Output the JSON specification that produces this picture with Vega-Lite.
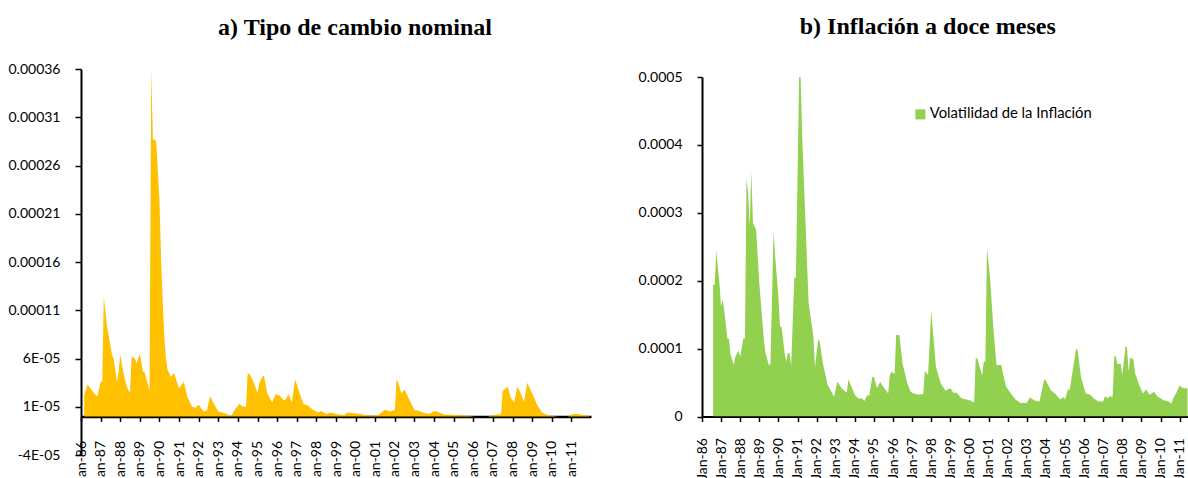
{
  "$schema": "https://vega.github.io/schema/vega-lite/v6.json",
  "padding": {"left": 7, "top": 15, "right": 0, "bottom": 0},
  "background": "#ffffff",
  "spacing": 47,
  "resolve": {"scale": {"color": "independent"}, "legend": {"color": "independent"}},
  "config": {
    "view": {"stroke": null},
    "font": "Lato",
    "axis": {"labelFont": "Lato", "labelFontSize": 14, "labelColor": "#000000", "domainColor": "#000000", "tickColor": "#000000", "domainWidth": 2, "tickWidth": 1.5, "grid": false}
  },
  "datasets": {
    "fx": [
      {"fecha": "1986-03", "valor": 2.2e-5},
      {"fecha": "1986-05", "valor": 3.3e-5},
      {"fecha": "1986-09", "valor": 2.4e-5},
      {"fecha": "1986-11", "valor": 2.05e-5},
      {"fecha": "1987-01", "valor": 3.6e-5},
      {"fecha": "1987-02", "valor": 3.6e-5},
      {"fecha": "1987-03", "valor": 12.4e-5},
      {"fecha": "1987-05", "valor": 9.3e-5},
      {"fecha": "1987-08", "valor": 6.4e-5},
      {"fecha": "1987-09", "valor": 6.0e-5},
      {"fecha": "1987-11", "valor": 3.6e-5},
      {"fecha": "1987-12", "valor": 4.5e-5},
      {"fecha": "1988-01", "valor": 6.4e-5},
      {"fecha": "1988-03", "valor": 4.5e-5},
      {"fecha": "1988-05", "valor": 3.1e-5},
      {"fecha": "1988-07", "valor": 2.4e-5},
      {"fecha": "1988-08", "valor": 6.2e-5},
      {"fecha": "1988-10", "valor": 6.0e-5},
      {"fecha": "1988-11", "valor": 5.5e-5},
      {"fecha": "1989-01", "valor": 6.5e-5},
      {"fecha": "1989-03", "valor": 4.6e-5},
      {"fecha": "1989-04", "valor": 4.6e-5},
      {"fecha": "1989-06", "valor": 3.3e-5},
      {"fecha": "1989-07", "valor": 2.6e-5},
      {"fecha": "1989-08", "valor": 36.0e-5},
      {"fecha": "1989-09", "valor": 28.7e-5},
      {"fecha": "1989-10", "valor": 28.7e-5},
      {"fecha": "1989-11", "valor": 28.5e-5},
      {"fecha": "1990-01", "valor": 22.4e-5},
      {"fecha": "1990-02", "valor": 16.2e-5},
      {"fecha": "1990-03", "valor": 12.0e-5},
      {"fecha": "1990-04", "valor": 8.3e-5},
      {"fecha": "1990-05", "valor": 6.0e-5},
      {"fecha": "1990-06", "valor": 4.8e-5},
      {"fecha": "1990-08", "valor": 4.1e-5},
      {"fecha": "1990-10", "valor": 4.5e-5},
      {"fecha": "1990-12", "valor": 3.4e-5},
      {"fecha": "1991-01", "valor": 2.9e-5},
      {"fecha": "1991-04", "valor": 3.6e-5},
      {"fecha": "1991-06", "valor": 2.05e-5},
      {"fecha": "1991-09", "valor": 1.0e-5},
      {"fecha": "1991-11", "valor": 0.9e-5},
      {"fecha": "1992-01", "valor": 1.2e-5},
      {"fecha": "1992-04", "valor": 0.5e-5},
      {"fecha": "1992-06", "valor": 0.6e-5},
      {"fecha": "1992-08", "valor": 2.1e-5},
      {"fecha": "1992-10", "valor": 1.4e-5},
      {"fecha": "1993-01", "valor": 0.5e-5},
      {"fecha": "1993-05", "valor": 0.33e-5},
      {"fecha": "1993-09", "valor": 0.05e-5},
      {"fecha": "1993-11", "valor": 0.7e-5},
      {"fecha": "1994-02", "valor": 1.3e-5},
      {"fecha": "1994-04", "valor": 1.0e-5},
      {"fecha": "1994-06", "valor": 1.0e-5},
      {"fecha": "1994-07", "valor": 4.5e-5},
      {"fecha": "1994-08", "valor": 4.4e-5},
      {"fecha": "1994-10", "valor": 3.8e-5},
      {"fecha": "1995-01", "valor": 2.4e-5},
      {"fecha": "1995-02", "valor": 3.4e-5},
      {"fecha": "1995-04", "valor": 4.1e-5},
      {"fecha": "1995-05", "valor": 4.2e-5},
      {"fecha": "1995-07", "valor": 2.4e-5},
      {"fecha": "1995-10", "valor": 1.45e-5},
      {"fecha": "1995-12", "valor": 2.3e-5},
      {"fecha": "1996-02", "valor": 2.2e-5},
      {"fecha": "1996-03", "valor": 2.05e-5},
      {"fecha": "1996-05", "valor": 1.7e-5},
      {"fecha": "1996-06", "valor": 1.7e-5},
      {"fecha": "1996-08", "valor": 2.3e-5},
      {"fecha": "1996-10", "valor": 1.45e-5},
      {"fecha": "1996-12", "valor": 3.85e-5},
      {"fecha": "1997-02", "valor": 2.75e-5},
      {"fecha": "1997-05", "valor": 1.3e-5},
      {"fecha": "1997-08", "valor": 1.1e-5},
      {"fecha": "1997-11", "valor": 0.67e-5},
      {"fecha": "1998-02", "valor": 0.4e-5},
      {"fecha": "1998-04", "valor": 0.57e-5},
      {"fecha": "1998-07", "valor": 0.26e-5},
      {"fecha": "1998-10", "valor": 0.4e-5},
      {"fecha": "1999-01", "valor": 0.26e-5},
      {"fecha": "1999-06", "valor": 0.12e-5},
      {"fecha": "1999-08", "valor": 0.4e-5},
      {"fecha": "1999-12", "valor": 0.33e-5},
      {"fecha": "2000-04", "valor": 0.26e-5},
      {"fecha": "2000-09", "valor": 0.08e-5},
      {"fecha": "2001-03", "valor": 0.15e-5},
      {"fecha": "2001-07", "valor": 0.7e-5},
      {"fecha": "2001-10", "valor": 0.5e-5},
      {"fecha": "2002-01", "valor": 0.67e-5},
      {"fecha": "2002-02", "valor": 3.8e-5},
      {"fecha": "2002-03", "valor": 3.6e-5},
      {"fecha": "2002-05", "valor": 2.4e-5},
      {"fecha": "2002-07", "valor": 2.8e-5},
      {"fecha": "2002-10", "valor": 1.7e-5},
      {"fecha": "2003-01", "valor": 0.67e-5},
      {"fecha": "2003-03", "valor": 0.6e-5},
      {"fecha": "2003-06", "valor": 0.4e-5},
      {"fecha": "2003-10", "valor": 0.26e-5},
      {"fecha": "2004-01", "valor": 0.57e-5},
      {"fecha": "2004-03", "valor": 0.5e-5},
      {"fecha": "2004-07", "valor": 0.2e-5},
      {"fecha": "2005-02", "valor": 0.15e-5},
      {"fecha": "2005-08", "valor": 0.1e-5},
      {"fecha": "2006-02", "valor": 0.0},
      {"fecha": "2006-10", "valor": 0.0},
      {"fecha": "2007-01", "valor": 0.15e-5},
      {"fecha": "2007-06", "valor": 0.26e-5},
      {"fecha": "2007-07", "valor": 2.6e-5},
      {"fecha": "2007-10", "valor": 3.1e-5},
      {"fecha": "2007-12", "valor": 1.9e-5},
      {"fecha": "2008-02", "valor": 1.45e-5},
      {"fecha": "2008-04", "valor": 3.1e-5},
      {"fecha": "2008-06", "valor": 2.4e-5},
      {"fecha": "2008-08", "valor": 1.5e-5},
      {"fecha": "2008-10", "valor": 3.5e-5},
      {"fecha": "2009-01", "valor": 2.4e-5},
      {"fecha": "2009-04", "valor": 1.2e-5},
      {"fecha": "2009-07", "valor": 0.4e-5},
      {"fecha": "2009-11", "valor": 0.1e-5},
      {"fecha": "2010-05", "valor": 0.0},
      {"fecha": "2010-11", "valor": 0.0},
      {"fecha": "2011-02", "valor": 0.26e-5},
      {"fecha": "2011-05", "valor": 0.26e-5},
      {"fecha": "2011-10", "valor": 0.1e-5},
      {"fecha": "2011-12", "valor": 0.05e-5}
    ],
    "infl": [
      {"fecha": "1986-08", "valor": 19.4e-5},
      {"fecha": "1986-09", "valor": 19.4e-5},
      {"fecha": "1986-10", "valor": 24.4e-5},
      {"fecha": "1986-12", "valor": 19.6e-5},
      {"fecha": "1987-01", "valor": 16.2e-5},
      {"fecha": "1987-02", "valor": 17.3e-5},
      {"fecha": "1987-03", "valor": 15.7e-5},
      {"fecha": "1987-05", "valor": 11.5e-5},
      {"fecha": "1987-06", "valor": 11.4e-5},
      {"fecha": "1987-07", "valor": 9.1e-5},
      {"fecha": "1987-09", "valor": 7.6e-5},
      {"fecha": "1987-10", "valor": 8.8e-5},
      {"fecha": "1987-12", "valor": 9.7e-5},
      {"fecha": "1988-01", "valor": 8.8e-5},
      {"fecha": "1988-03", "valor": 11.5e-5},
      {"fecha": "1988-04", "valor": 11.5e-5},
      {"fecha": "1988-05", "valor": 35.0e-5},
      {"fecha": "1988-06", "valor": 33.0e-5},
      {"fecha": "1988-07", "valor": 28.0e-5},
      {"fecha": "1988-08", "valor": 36.0e-5},
      {"fecha": "1988-09", "valor": 28.5e-5},
      {"fecha": "1988-11", "valor": 27.5e-5},
      {"fecha": "1989-01", "valor": 19.6e-5},
      {"fecha": "1989-04", "valor": 11.0e-5},
      {"fecha": "1989-05", "valor": 9.3e-5},
      {"fecha": "1989-07", "valor": 7.6e-5},
      {"fecha": "1989-08", "valor": 7.7e-5},
      {"fecha": "1989-10", "valor": 27.3e-5},
      {"fecha": "1989-11", "valor": 23.5e-5},
      {"fecha": "1990-01", "valor": 17.6e-5},
      {"fecha": "1990-02", "valor": 13.2e-5},
      {"fecha": "1990-03", "valor": 13.2e-5},
      {"fecha": "1990-05", "valor": 9.3e-5},
      {"fecha": "1990-06", "valor": 8.1e-5},
      {"fecha": "1990-07", "valor": 9.4e-5},
      {"fecha": "1990-08", "valor": 9.3e-5},
      {"fecha": "1990-09", "valor": 7.4e-5},
      {"fecha": "1990-11", "valor": 20.5e-5},
      {"fecha": "1990-12", "valor": 20.4e-5},
      {"fecha": "1991-02", "valor": 50.0e-5},
      {"fecha": "1991-03", "valor": 50.0e-5},
      {"fecha": "1991-04", "valor": 41.2e-5},
      {"fecha": "1991-06", "valor": 28.9e-5},
      {"fecha": "1991-08", "valor": 16.7e-5},
      {"fecha": "1991-11", "valor": 11.8e-5},
      {"fecha": "1991-12", "valor": 7.3e-5},
      {"fecha": "1992-02", "valor": 11.4e-5},
      {"fecha": "1992-03", "valor": 11.0e-5},
      {"fecha": "1992-05", "valor": 7.8e-5},
      {"fecha": "1992-08", "valor": 4.6e-5},
      {"fecha": "1992-10", "valor": 3.8e-5},
      {"fecha": "1992-12", "valor": 2.9e-5},
      {"fecha": "1993-02", "valor": 5.1e-5},
      {"fecha": "1993-04", "valor": 4.4e-5},
      {"fecha": "1993-05", "valor": 4.1e-5},
      {"fecha": "1993-08", "valor": 3.5e-5},
      {"fecha": "1993-09", "valor": 5.5e-5},
      {"fecha": "1993-11", "valor": 4.3e-5},
      {"fecha": "1994-01", "valor": 3.2e-5},
      {"fecha": "1994-03", "valor": 2.7e-5},
      {"fecha": "1994-06", "valor": 2.6e-5},
      {"fecha": "1994-07", "valor": 2.3e-5},
      {"fecha": "1994-09", "valor": 3.2e-5},
      {"fecha": "1994-10", "valor": 3.0e-5},
      {"fecha": "1994-12", "valor": 5.8e-5},
      {"fecha": "1995-01", "valor": 5.8e-5},
      {"fecha": "1995-03", "valor": 4.15e-5},
      {"fecha": "1995-05", "valor": 5.1e-5},
      {"fecha": "1995-06", "valor": 4.7e-5},
      {"fecha": "1995-10", "valor": 3.4e-5},
      {"fecha": "1995-11", "valor": 6.1e-5},
      {"fecha": "1995-12", "valor": 6.6e-5},
      {"fecha": "1996-02", "valor": 6.3e-5},
      {"fecha": "1996-03", "valor": 12.0e-5},
      {"fecha": "1996-05", "valor": 12.0e-5},
      {"fecha": "1996-07", "valor": 7.8e-5},
      {"fecha": "1996-10", "valor": 4.9e-5},
      {"fecha": "1996-12", "valor": 3.65e-5},
      {"fecha": "1997-02", "valor": 3.4e-5},
      {"fecha": "1997-05", "valor": 3.2e-5},
      {"fecha": "1997-08", "valor": 3.3e-5},
      {"fecha": "1997-09", "valor": 6.75e-5},
      {"fecha": "1997-11", "valor": 6.1e-5},
      {"fecha": "1998-01", "valor": 15.6e-5},
      {"fecha": "1998-02", "valor": 12.7e-5},
      {"fecha": "1998-04", "valor": 7.3e-5},
      {"fecha": "1998-07", "valor": 4.9e-5},
      {"fecha": "1998-10", "valor": 3.8e-5},
      {"fecha": "1998-11", "valor": 3.95e-5},
      {"fecha": "1999-01", "valor": 4.15e-5},
      {"fecha": "1999-03", "valor": 3.5e-5},
      {"fecha": "1999-05", "valor": 3.5e-5},
      {"fecha": "1999-08", "valor": 2.7e-5},
      {"fecha": "1999-11", "valor": 2.5e-5},
      {"fecha": "2000-01", "valor": 2.4e-5},
      {"fecha": "2000-04", "valor": 2.05e-5},
      {"fecha": "2000-05", "valor": 8.6e-5},
      {"fecha": "2000-06", "valor": 8.5e-5},
      {"fecha": "2000-09", "valor": 6.0e-5},
      {"fecha": "2000-10", "valor": 8.1e-5},
      {"fecha": "2000-11", "valor": 8.1e-5},
      {"fecha": "2000-12", "valor": 24.9e-5},
      {"fecha": "2001-02", "valor": 20.1e-5},
      {"fecha": "2001-04", "valor": 13.2e-5},
      {"fecha": "2001-06", "valor": 7.6e-5},
      {"fecha": "2001-09", "valor": 7.6e-5},
      {"fecha": "2001-10", "valor": 6.4e-5},
      {"fecha": "2001-12", "valor": 4.4e-5},
      {"fecha": "2002-03", "valor": 3.4e-5},
      {"fecha": "2002-06", "valor": 2.5e-5},
      {"fecha": "2002-09", "valor": 2.0e-5},
      {"fecha": "2003-01", "valor": 2.0e-5},
      {"fecha": "2003-03", "valor": 2.8e-5},
      {"fecha": "2003-06", "valor": 2.35e-5},
      {"fecha": "2003-09", "valor": 2.2e-5},
      {"fecha": "2003-12", "valor": 5.5e-5},
      {"fecha": "2004-01", "valor": 5.3e-5},
      {"fecha": "2004-04", "valor": 3.9e-5},
      {"fecha": "2004-07", "valor": 3.3e-5},
      {"fecha": "2004-10", "valor": 2.5e-5},
      {"fecha": "2004-12", "valor": 2.85e-5},
      {"fecha": "2005-01", "valor": 2.5e-5},
      {"fecha": "2005-03", "valor": 4.05e-5},
      {"fecha": "2005-04", "valor": 3.9e-5},
      {"fecha": "2005-08", "valor": 10.0e-5},
      {"fecha": "2005-09", "valor": 9.7e-5},
      {"fecha": "2005-11", "valor": 5.9e-5},
      {"fecha": "2006-02", "valor": 3.4e-5},
      {"fecha": "2006-05", "valor": 3.2e-5},
      {"fecha": "2006-07", "valor": 2.7e-5},
      {"fecha": "2006-10", "valor": 2.2e-5},
      {"fecha": "2007-01", "valor": 2.2e-5},
      {"fecha": "2007-02", "valor": 3.0e-5},
      {"fecha": "2007-04", "valor": 2.7e-5},
      {"fecha": "2007-05", "valor": 3.0e-5},
      {"fecha": "2007-07", "valor": 2.9e-5},
      {"fecha": "2007-08", "valor": 8.9e-5},
      {"fecha": "2007-09", "valor": 8.8e-5},
      {"fecha": "2007-10", "valor": 7.7e-5},
      {"fecha": "2007-12", "valor": 7.8e-5},
      {"fecha": "2008-01", "valor": 6.1e-5},
      {"fecha": "2008-03", "valor": 10.3e-5},
      {"fecha": "2008-04", "valor": 10.2e-5},
      {"fecha": "2008-05", "valor": 6.6e-5},
      {"fecha": "2008-06", "valor": 8.7e-5},
      {"fecha": "2008-08", "valor": 8.4e-5},
      {"fecha": "2008-09", "valor": 6.4e-5},
      {"fecha": "2008-12", "valor": 4.4e-5},
      {"fecha": "2009-02", "valor": 3.4e-5},
      {"fecha": "2009-04", "valor": 4.0e-5},
      {"fecha": "2009-06", "valor": 3.2e-5},
      {"fecha": "2009-09", "valor": 3.65e-5},
      {"fecha": "2009-11", "valor": 3.0e-5},
      {"fecha": "2010-03", "valor": 2.4e-5},
      {"fecha": "2010-06", "valor": 2.2e-5},
      {"fecha": "2010-08", "valor": 1.95e-5},
      {"fecha": "2010-09", "valor": 2.7e-5},
      {"fecha": "2010-11", "valor": 3.5e-5},
      {"fecha": "2011-01", "valor": 4.6e-5},
      {"fecha": "2011-02", "valor": 4.3e-5},
      {"fecha": "2011-04", "valor": 4.15e-5},
      {"fecha": "2011-06", "valor": 4.15e-5},
      {"fecha": "2011-09", "valor": 4.0e-5},
      {"fecha": "2011-12", "valor": 4.0e-5}
    ]
  },
  "hconcat": [
    {
      "width": 510,
      "height": 386,
      "title": {"text": "a) Tipo de cambio nominal", "font": "Liberation Serif", "fontSize": 24, "fontWeight": "bold", "color": "#000000", "anchor": "middle", "frame": "group", "dx": 19, "offset": 22},
      "data": {"name": "fx"},
      "mark": {"type": "area", "color": "#FFC000", "clip": true},
      "encoding": {
        "x": {
          "field": "fecha", "type": "temporal",
          "scale": {"type": "utc", "domain": [{"year": 1986, "month": 1, "date": 1, "utc": true}, {"year": 2012, "month": 1, "date": 1, "utc": true}]},
          "axis": {
            "title": null, "offset": -38.6, "format": "%b-%y", "labelAngle": 270, "labelPadding": 19, "tickSize": 5,
            "domainWidth": 2.5, "labelOverlap": false, "labelBound": false, "labelFlush": false,
            "values": [
              {"year": 1986, "month": 1, "date": 1, "utc": true}, {"year": 1987, "month": 1, "date": 1, "utc": true},
              {"year": 1988, "month": 1, "date": 1, "utc": true}, {"year": 1989, "month": 1, "date": 1, "utc": true},
              {"year": 1990, "month": 1, "date": 1, "utc": true}, {"year": 1991, "month": 1, "date": 1, "utc": true},
              {"year": 1992, "month": 1, "date": 1, "utc": true}, {"year": 1993, "month": 1, "date": 1, "utc": true},
              {"year": 1994, "month": 1, "date": 1, "utc": true}, {"year": 1995, "month": 1, "date": 1, "utc": true},
              {"year": 1996, "month": 1, "date": 1, "utc": true}, {"year": 1997, "month": 1, "date": 1, "utc": true},
              {"year": 1998, "month": 1, "date": 1, "utc": true}, {"year": 1999, "month": 1, "date": 1, "utc": true},
              {"year": 2000, "month": 1, "date": 1, "utc": true}, {"year": 2001, "month": 1, "date": 1, "utc": true},
              {"year": 2002, "month": 1, "date": 1, "utc": true}, {"year": 2003, "month": 1, "date": 1, "utc": true},
              {"year": 2004, "month": 1, "date": 1, "utc": true}, {"year": 2005, "month": 1, "date": 1, "utc": true},
              {"year": 2006, "month": 1, "date": 1, "utc": true}, {"year": 2007, "month": 1, "date": 1, "utc": true},
              {"year": 2008, "month": 1, "date": 1, "utc": true}, {"year": 2009, "month": 1, "date": 1, "utc": true},
              {"year": 2010, "month": 1, "date": 1, "utc": true}, {"year": 2011, "month": 1, "date": 1, "utc": true}
            ]
          }
        },
        "y": {
          "field": "valor", "type": "quantitative",
          "scale": {"domain": [-0.00004, 0.00036], "nice": false},
          "axis": {
            "title": null, "tickSize": 6, "labelPadding": 15,
            "values": [-0.00004, 0.00001, 0.00006, 0.00011, 0.00016, 0.00021, 0.00026, 0.00031, 0.00036],
            "labelExpr": "abs(datum.value) < 0.0001 ? (datum.value < 0 ? '-' : '') + format(abs(datum.value) / 0.00001, '.0f') + 'E-05' : format(datum.value, '.5f')"
          }
        },
        "y2": {"datum": 0}
      }
    },
    {
      "width": 485.5,
      "height": 347.5,
      "title": {"text": "b) Inflación a doce meses", "font": "Liberation Serif", "fontSize": 24, "fontWeight": "bold", "color": "#000000", "anchor": "middle", "frame": "group", "dx": -17, "offset": 30},
      "data": {"name": "infl"},
      "transform": [{"calculate": "'Volatilidad de la Inflación'", "as": "serie"}],
      "mark": {"type": "area", "clip": true},
      "encoding": {
        "x": {
          "field": "fecha", "type": "temporal",
          "scale": {"type": "utc", "domain": [{"year": 1986, "month": 1, "date": 1, "utc": true}, {"year": 2011, "month": 6, "date": 1, "utc": true}]},
          "axis": {
            "title": null, "format": "%b-%y", "labelAngle": 270, "labelPadding": 16, "tickSize": 5,
            "labelOverlap": false, "labelBound": false, "labelFlush": false,
            "values": [
              {"year": 1986, "month": 1, "date": 1, "utc": true}, {"year": 1987, "month": 1, "date": 1, "utc": true},
              {"year": 1988, "month": 1, "date": 1, "utc": true}, {"year": 1989, "month": 1, "date": 1, "utc": true},
              {"year": 1990, "month": 1, "date": 1, "utc": true}, {"year": 1991, "month": 1, "date": 1, "utc": true},
              {"year": 1992, "month": 1, "date": 1, "utc": true}, {"year": 1993, "month": 1, "date": 1, "utc": true},
              {"year": 1994, "month": 1, "date": 1, "utc": true}, {"year": 1995, "month": 1, "date": 1, "utc": true},
              {"year": 1996, "month": 1, "date": 1, "utc": true}, {"year": 1997, "month": 1, "date": 1, "utc": true},
              {"year": 1998, "month": 1, "date": 1, "utc": true}, {"year": 1999, "month": 1, "date": 1, "utc": true},
              {"year": 2000, "month": 1, "date": 1, "utc": true}, {"year": 2001, "month": 1, "date": 1, "utc": true},
              {"year": 2002, "month": 1, "date": 1, "utc": true}, {"year": 2003, "month": 1, "date": 1, "utc": true},
              {"year": 2004, "month": 1, "date": 1, "utc": true}, {"year": 2005, "month": 1, "date": 1, "utc": true},
              {"year": 2006, "month": 1, "date": 1, "utc": true}, {"year": 2007, "month": 1, "date": 1, "utc": true},
              {"year": 2008, "month": 1, "date": 1, "utc": true}, {"year": 2009, "month": 1, "date": 1, "utc": true},
              {"year": 2010, "month": 1, "date": 1, "utc": true}, {"year": 2011, "month": 1, "date": 1, "utc": true}
            ]
          }
        },
        "y": {
          "field": "valor", "type": "quantitative",
          "scale": {"domain": [0, 0.0005], "nice": false, "range": [347.5, 8]},
          "axis": {
            "title": null, "tickSize": 5, "labelPadding": 15,
            "values": [0, 0.0001, 0.0002, 0.0003, 0.0004, 0.0005],
            "labelExpr": "datum.value == 0 ? '0' : format(datum.value, '.4f')"
          }
        },
        "color": {
          "field": "serie", "type": "nominal",
          "scale": {"range": ["#92D050"]},
          "legend": {"orient": "none", "legendX": 211, "legendY": 38, "title": null, "symbolType": "square", "symbolSize": 100, "symbolStrokeWidth": 0, "labelFont": "Lato", "labelFontSize": 14.8, "labelLimit": 400, "labelColor": "#000000", "labelOffset": 2, "padding": 0}
        }
      }
    }
  ]
}
